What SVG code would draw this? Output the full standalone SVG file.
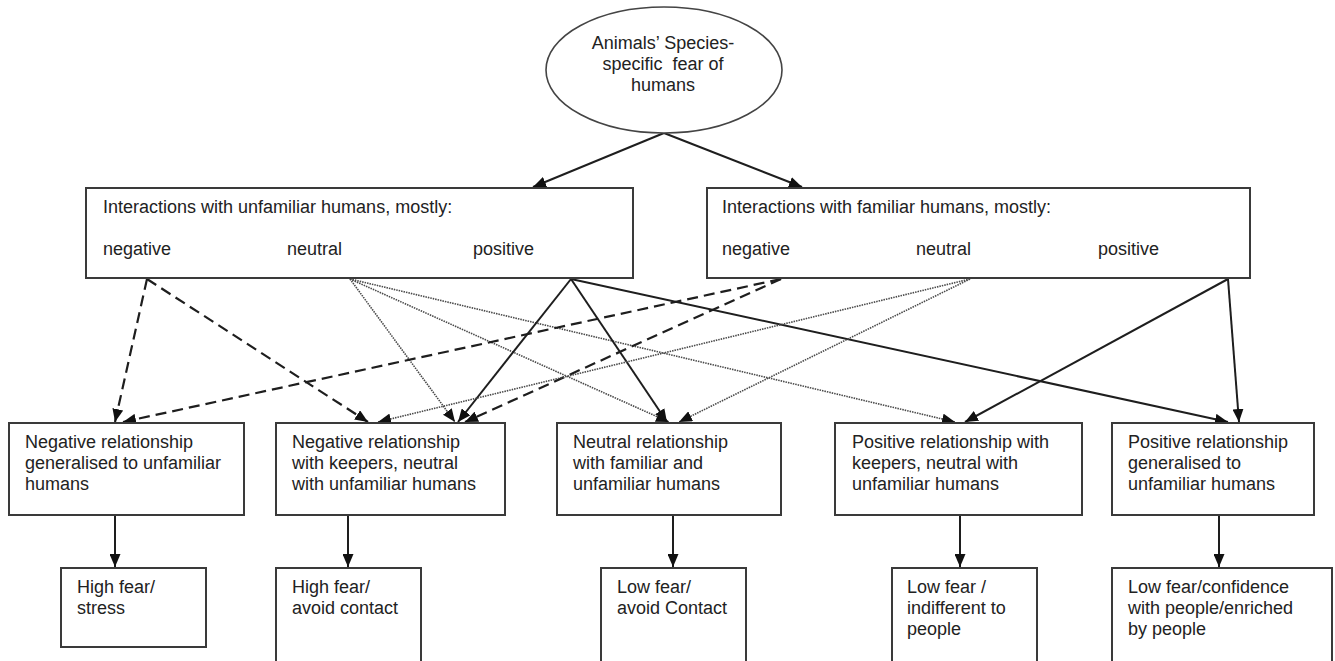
<svg xmlns="http://www.w3.org/2000/svg" width="1335" height="661" viewBox="0 0 1335 661">
<style>
.bx{fill:#fff;stroke:#3a3a3a;stroke-width:2}
.t{font-family:"Liberation Sans",Arial,sans-serif;font-size:18px;fill:#222}
.c{text-anchor:middle;white-space:pre}
.solid{stroke:#1e1e1e;stroke-width:2;fill:none}
.dash{stroke:#1e1e1e;stroke-width:2.2;stroke-dasharray:11 6;fill:none}
.dot{stroke:#4a4a4a;stroke-width:1.6;stroke-dasharray:1.5 1;fill:none}
</style>
<defs>
<marker id="ah" markerUnits="userSpaceOnUse" markerWidth="13" markerHeight="11" refX="13" refY="5.5" orient="auto">
<path d="M0,0 L13,5.5 L0,11 z" fill="#111"/>
</marker>
</defs>
<rect width="1335" height="661" fill="#fff"/>

<g id="connectors">
<line class="solid" x1="664" y1="133" x2="533" y2="187" marker-end="url(#ah)"/>
<line class="solid" x1="664" y1="133" x2="802" y2="187" marker-end="url(#ah)"/>
<!-- unfamiliar negative -->
<line class="dash" x1="147" y1="279" x2="115" y2="422" marker-end="url(#ah)"/>
<line class="dash" x1="147" y1="279" x2="368" y2="422" marker-end="url(#ah)"/>
<!-- unfamiliar neutral -->
<line class="dot" x1="350" y1="279" x2="455" y2="422" marker-end="url(#ah)"/>
<line class="dot" x1="350" y1="279" x2="669" y2="422" marker-end="url(#ah)"/>
<line class="dot" x1="350" y1="279" x2="955" y2="422" marker-end="url(#ah)"/>
<!-- unfamiliar positive -->
<line class="solid" x1="571" y1="279" x2="458" y2="422" marker-end="url(#ah)"/>
<line class="solid" x1="571" y1="279" x2="667" y2="422" marker-end="url(#ah)"/>
<line class="solid" x1="571" y1="279" x2="1228" y2="422" marker-end="url(#ah)"/>
<!-- familiar negative -->
<line class="dash" x1="781" y1="279" x2="123" y2="422" marker-end="url(#ah)"/>
<line class="dash" x1="781" y1="279" x2="465" y2="422" marker-end="url(#ah)"/>
<!-- familiar neutral -->
<line class="dot" x1="970" y1="279" x2="378" y2="422" marker-end="url(#ah)"/>
<line class="dot" x1="970" y1="279" x2="679" y2="422" marker-end="url(#ah)"/>
<!-- familiar positive -->
<line class="solid" x1="1228" y1="279" x2="965" y2="422" marker-end="url(#ah)"/>
<line class="solid" x1="1228" y1="279" x2="1239" y2="422" marker-end="url(#ah)"/>
<!-- relationship to outcome -->
<line class="solid" x1="115" y1="515" x2="115" y2="567" marker-end="url(#ah)"/>
<line class="solid" x1="348" y1="515" x2="348" y2="567" marker-end="url(#ah)"/>
<line class="solid" x1="673" y1="515" x2="673" y2="567" marker-end="url(#ah)"/>
<line class="solid" x1="960" y1="515" x2="960" y2="567" marker-end="url(#ah)"/>
<line class="solid" x1="1219" y1="515" x2="1219" y2="567" marker-end="url(#ah)"/>
</g>

<g id="root">
<ellipse cx="664" cy="70" rx="118" ry="63" fill="#fff" stroke="#444" stroke-width="1.6"/>
<text class="t c" x="663" y="49">Animals’ Species-</text>
<text class="t c" x="663" y="70">specific  fear of</text>
<text class="t c" x="663" y="91">humans</text>
</g>

<g id="unfamiliar">
<rect class="bx" x="86" y="188" width="547" height="90"/>
<text class="t" x="103" y="213">Interactions with unfamiliar humans, mostly:</text>
<text class="t" x="103" y="255">negative</text>
<text class="t" x="287" y="255">neutral</text>
<text class="t" x="473" y="255">positive</text>
</g>

<g id="familiar">
<rect class="bx" x="707" y="188" width="543" height="90"/>
<text class="t" x="722" y="213">Interactions with familiar humans, mostly:</text>
<text class="t" x="722" y="255">negative</text>
<text class="t" x="916" y="255">neutral</text>
<text class="t" x="1098" y="255">positive</text>
</g>

<g id="rel1">
<rect class="bx" x="9" y="423" width="235" height="92"/>
<text class="t" x="25" y="448">Negative relationship</text>
<text class="t" x="25" y="469">generalised to unfamiliar</text>
<text class="t" x="25" y="490">humans</text>
</g>
<g id="rel2">
<rect class="bx" x="276" y="423" width="229" height="92"/>
<text class="t" x="292" y="448">Negative relationship</text>
<text class="t" x="292" y="469">with keepers, neutral</text>
<text class="t" x="292" y="490">with unfamiliar humans</text>
</g>
<g id="rel3">
<rect class="bx" x="557" y="423" width="224" height="92"/>
<text class="t" x="573" y="448">Neutral relationship</text>
<text class="t" x="573" y="469">with familiar and</text>
<text class="t" x="573" y="490">unfamiliar humans</text>
</g>
<g id="rel4">
<rect class="bx" x="835" y="423" width="247" height="92"/>
<text class="t" x="852" y="448">Positive relationship with</text>
<text class="t" x="852" y="469">keepers, neutral with</text>
<text class="t" x="852" y="490">unfamiliar humans</text>
</g>
<g id="rel5">
<rect class="bx" x="1112" y="423" width="202" height="92"/>
<text class="t" x="1128" y="448">Positive relationship</text>
<text class="t" x="1128" y="469">generalised to</text>
<text class="t" x="1128" y="490">unfamiliar humans</text>
</g>

<g id="out1">
<rect class="bx" x="61" y="568" width="145" height="79"/>
<text class="t" x="77" y="593">High fear/</text>
<text class="t" x="77" y="614">stress</text>
</g>
<g id="out2">
<rect class="bx" x="276" y="568" width="145" height="110"/>
<text class="t" x="292" y="593">High fear/</text>
<text class="t" x="292" y="614">avoid contact</text>
</g>
<g id="out3">
<rect class="bx" x="601" y="568" width="145" height="110"/>
<text class="t" x="617" y="593">Low fear/</text>
<text class="t" x="617" y="614">avoid Contact</text>
</g>
<g id="out4">
<rect class="bx" x="892" y="568" width="145" height="110"/>
<text class="t" x="907" y="593">Low fear /</text>
<text class="t" x="907" y="614">indifferent to</text>
<text class="t" x="907" y="635">people</text>
</g>
<g id="out5">
<rect class="bx" x="1112" y="568" width="220" height="110"/>
<text class="t" x="1128" y="593">Low fear/confidence</text>
<text class="t" x="1128" y="614">with people/enriched</text>
<text class="t" x="1128" y="635">by people</text>
</g>
</svg>
